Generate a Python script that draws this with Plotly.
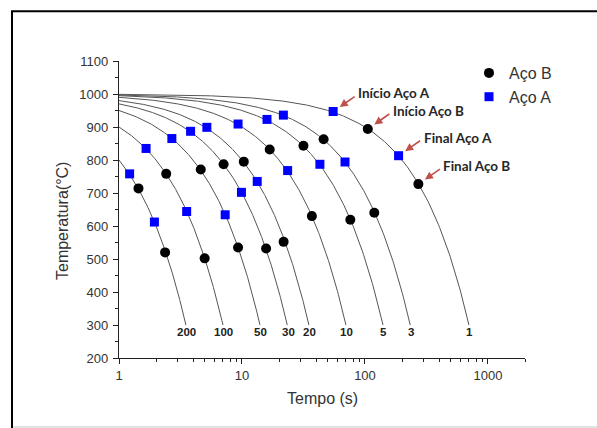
import numpy as np
import plotly.graph_objects as go

# Cooling rates (°C/s) of the constant-rate cooling curves
rates = [200, 100, 50, 30, 20, 10, 5, 3, 1]
start_temp = 1000   # austenitizing temperature, °C
end_temp = 300      # curves drawn down to this temperature, °C

# Transformation points, steel B (black circles)
aco_b_time = [1.44, 2.37, 2.42, 4.62, 4.97, 7.09, 9.29, 10.34, 15.7, 16.8,
              21.8, 31.6, 37.0, 46.1, 76.0, 105.4, 119.0, 271.8]
aco_b_temp = [714, 520, 758, 771, 502, 787, 535, 795, 532, 832,
              552, 843, 630, 863, 619, 894, 640, 727]

# Transformation points, steel A (blue squares)
aco_a_time = [1.22, 1.66, 1.94, 2.69, 3.55, 3.82, 5.18, 7.30, 9.29, 9.9,
              13.3, 15.97, 21.7, 23.5, 43.0, 55.1, 68.8, 187.6]
aco_a_temp = [758, 835, 612, 865, 644, 887, 899, 634, 909, 702,
              735, 923, 936, 768, 787, 947, 794, 813]

x_ticks = [1, 10, 100, 1000]
x_minor = [v * d for d in (1, 10, 100, 1000) for v in range(2, 10)] + [2000]

SANS = "Liberation Sans"

fig = go.Figure()

# Constant cooling-rate curves T = T0 - r*t, sampled along a log time grid
for r in rates:
    t = np.geomspace(1, (start_temp - end_temp) / r, 300)
    fig.add_trace(go.Scatter(
        x=t, y=start_temp - r * t, mode="lines",
        line=dict(color="#555555", width=1), showlegend=False, hoverinfo="skip"))

fig.add_trace(go.Scatter(
    x=aco_b_time, y=aco_b_temp, mode="markers", name="Aço B",
    marker=dict(symbol="circle", size=10, color="black")))
fig.add_trace(go.Scatter(
    x=aco_a_time, y=aco_a_temp, mode="markers", name="Aço A",
    marker=dict(symbol="square", size=9, color="#0000ff")))

L, R, T_, B = 119, 72, 61, 70
W, H = 597, 428
pw, ph = W - L - R, H - T_ - B


def px_x(p):
    return (p - L) / pw


def px_y(p):
    return (H - B - p) / ph


annotations = []

# Rate labels under the end of each curve
for r in rates:
    annotations.append(dict(
        x=np.log10((start_temp - end_temp) / r), y=280, xref="x", yref="y",
        text=f"<b>{r}</b>", showarrow=False, xshift=1,
        font=dict(family=SANS, size=11.5, color="#222222")))

# Start / end call-outs on the slowest curve
callouts = [
    ("Início Aço A", aco_a_time[15], aco_a_temp[15]),
    ("Início Aço B", aco_b_time[15], aco_b_temp[15]),
    ("Final Aço A", aco_a_time[17], aco_a_temp[17]),
    ("Final Aço B", aco_b_time[17], aco_b_temp[17]),
]
for label, t, T in callouts:
    annotations.append(dict(
        x=np.log10(t), y=T, xref="x", yref="y", text="", showarrow=True,
        ax=23, ay=-16, arrowcolor="#c0504d", arrowwidth=1.6, arrowhead=2,
        arrowsize=1, standoff=8))
    annotations.append(dict(
        x=np.log10(t), y=T, xref="x", yref="y", text=f"<b>{label}</b>",
        showarrow=False, xanchor="left", yanchor="middle", xshift=23, yshift=18,
        font=dict(family="Lato", size=13.5, color="#262626")))

# Axis titles
annotations.append(dict(
    x=0.5, y=px_y(398), xref="paper", yref="paper", text="Tempo (s)",
    showarrow=False, xanchor="center", yanchor="middle",
    font=dict(family=SANS, size=16, color="#333333")))
annotations.append(dict(
    x=px_x(62), y=px_y(221), xref="paper", yref="paper", text="Temperatura(°C)",
    textangle=-90, showarrow=False, xanchor="center", yanchor="middle",
    font=dict(family=SANS, size=16, color="#333333")))

shapes = [
    # outer frame (open to the right and bottom)
    dict(type="rect", xref="paper", yref="paper",
         x0=px_x(12), x1=px_x(620), y0=px_y(460), y1=px_y(11.2),
         line=dict(color="black", width=2), fillcolor="rgba(0,0,0,0)"),
    dict(type="line", xref="paper", yref="paper",
         x0=px_x(13), x1=px_x(620), y0=px_y(427), y1=px_y(427),
         line=dict(color="#d9d9d9", width=1.5)),
]

axis_font = dict(family=SANS, size=13, color="#333333")
fig.update_layout(
    width=W, height=H,
    margin=dict(l=L, r=R, t=T_, b=B),
    paper_bgcolor="white", plot_bgcolor="white",
    annotations=annotations, shapes=shapes,
    legend=dict(x=px_x(469), y=px_y(56), xanchor="left", yanchor="top",
                font=dict(family=SANS, size=16, color="#333333"),
                bgcolor="rgba(0,0,0,0)", tracegroupgap=0),
    xaxis=dict(type="log", range=[0, np.log10(2000)],
               tickmode="array", tickvals=x_ticks,
               ticktext=[str(v) for v in x_ticks],
               ticks="outside", ticklen=5, tickwidth=1.2, tickcolor="#222222",
               showline=True, linecolor="#222222", linewidth=1.3,
               showgrid=False, zeroline=False, tickfont=axis_font,
               minor=dict(tickmode="array", tickvals=x_minor, ticks="outside",
                          ticklen=3, tickwidth=1, tickcolor="#222222",
                          showgrid=False)),
    yaxis=dict(range=[200, 1100], tickmode="linear", tick0=200, dtick=100,
               ticks="outside", ticklen=5, tickwidth=1.2, tickcolor="#222222",
               showline=True, linecolor="#222222", linewidth=1.3,
               showgrid=False, zeroline=False, tickfont=axis_font,
               ticklabelstandoff=2,
               minor=dict(dtick=50, ticks="outside", ticklen=3, tickwidth=1,
                          tickcolor="#222222", showgrid=False)),
)

fig.write_html("out.html")
